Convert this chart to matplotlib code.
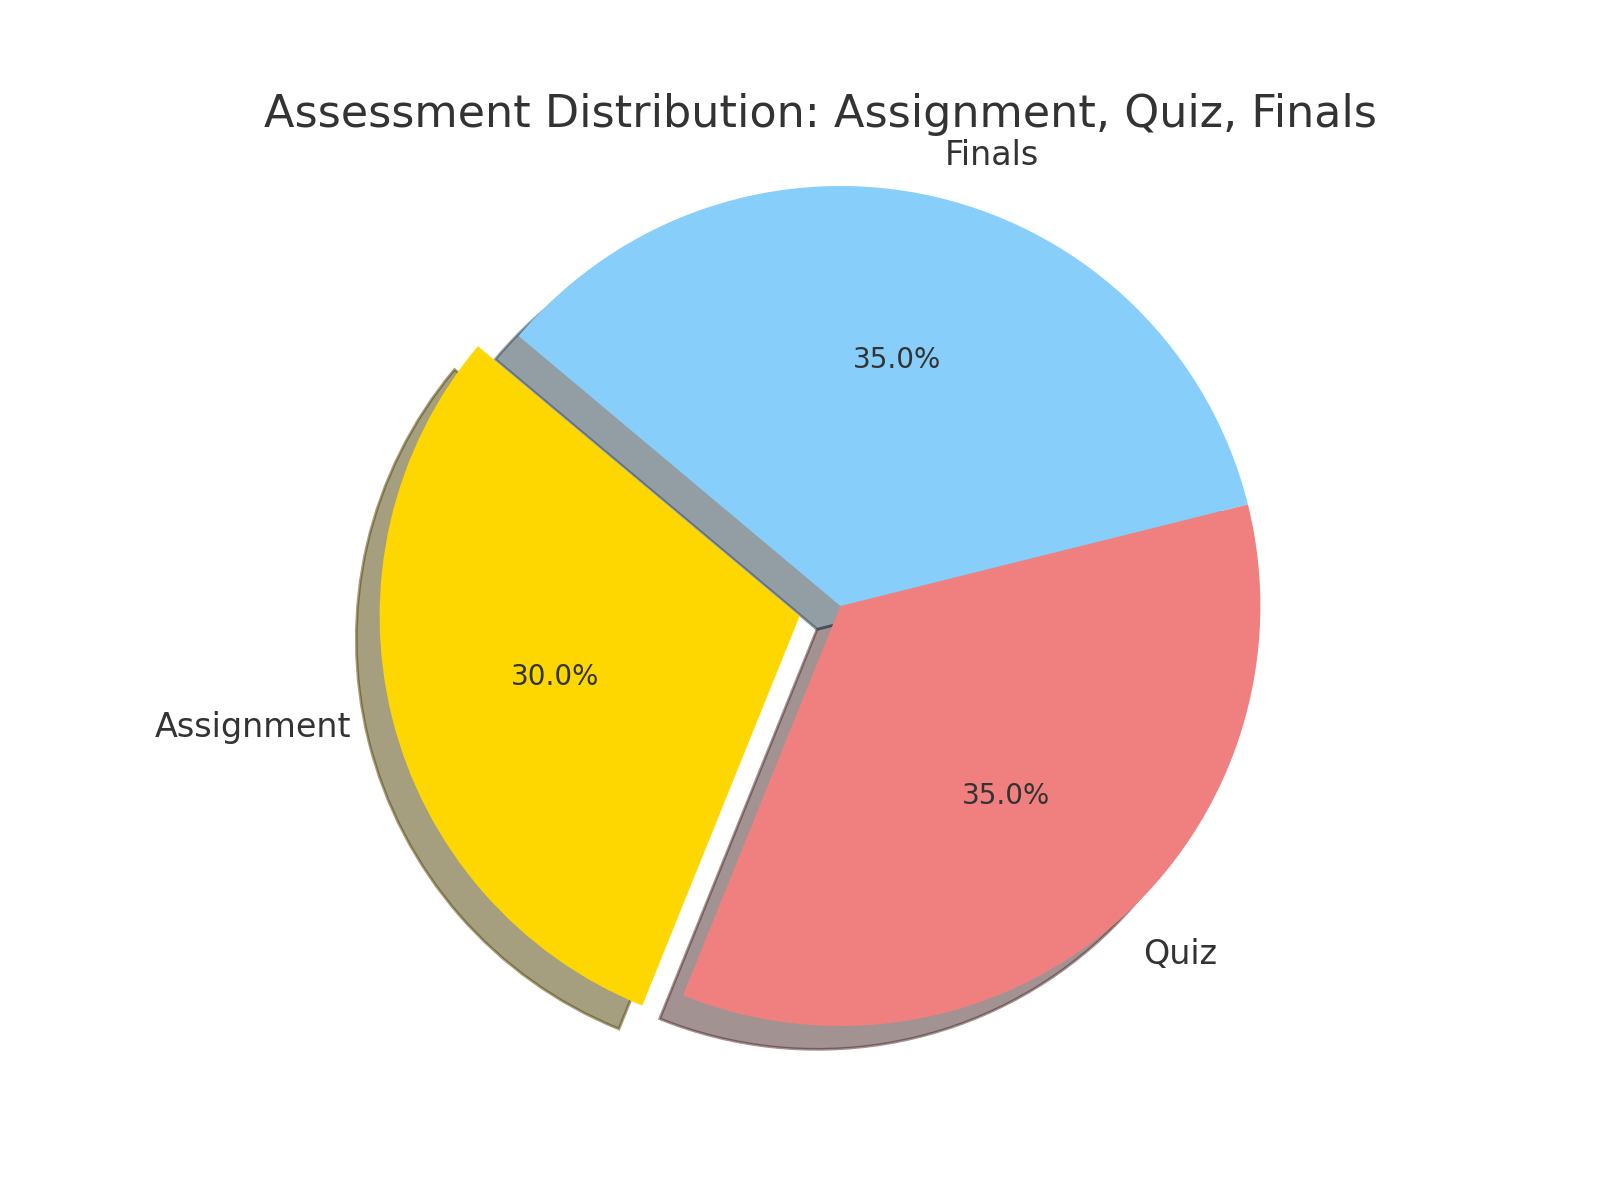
import matplotlib.pyplot as plt

labels = ["Assignment", "Quiz", "Finals"]
shares = [30, 35, 35]
colors = ["gold", "lightcoral", "lightskyblue"]
explode = [0.1, 0, 0]

text_color = "#333333"

fig, ax = plt.subplots(figsize=(8, 6), dpi=200)
wedges, texts, autotexts = ax.pie(
    shares,
    labels=labels,
    colors=colors,
    explode=explode,
    autopct="%1.1f%%",
    shadow=True,
    startangle=140,
)
for t in texts:
    t.set_fontsize(12)
    t.set_color(text_color)
for t in autotexts:
    t.set_fontsize(10)
    t.set_color(text_color)

ax.set_title("Assessment Distribution: Assignment, Quiz, Finals",
             fontsize=16, color=text_color)
ax.axis("equal")

plt.savefig("out.png")
